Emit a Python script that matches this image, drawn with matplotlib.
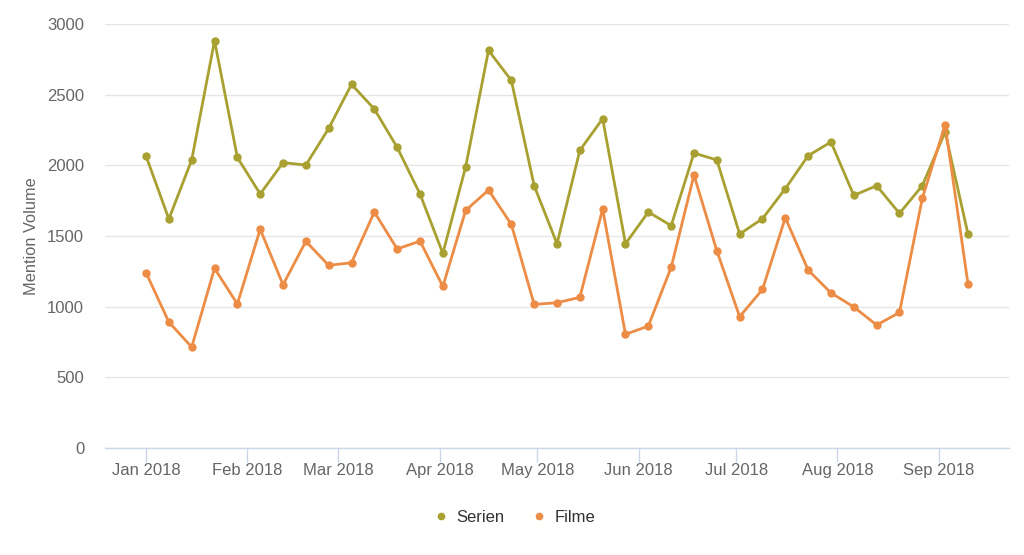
import matplotlib
matplotlib.use("Agg")
import matplotlib.pyplot as plt
import matplotlib.dates as mdates
import pandas as pd

dates = pd.date_range("2018-01-01", periods=37, freq="7D")
serien = [2066, 1620, 2038, 2882, 2056, 1797, 2019, 2002, 2261, 2573, 2398, 2127,
          1797, 1377, 1990, 2813, 2601, 1856, 1445, 2106, 2330, 1445, 1670, 1573,
          2087, 2038, 1514, 1622, 1835, 2068, 2165, 1787, 1856, 1660, 1856, 2236, 1514]
filme = [1240, 891, 714, 1271, 1019, 1548, 1155, 1462, 1292, 1311, 1670, 1408,
         1464, 1143, 1681, 1825, 1582, 1016, 1028, 1066, 1691, 804, 863, 1278,
         1931, 1396, 929, 1122, 1629, 1259, 1097, 998, 870, 959, 1766, 2287, 1162]
month_ticks = pd.date_range("2018-01-01", "2018-09-01", freq="MS")
yticks = [0, 500, 1000, 1500, 2000, 2500, 3000]

plt.rcParams['font.family'] = ['Liberation Sans', 'DejaVu Sans']
fig = plt.figure(figsize=(10.24, 5.55), dpi=100)
ax = fig.add_axes([105/1024, 1-448/555, (1009-105)/1024, (448-24)/555])

c_ser = '#a8a030'
c_fil = '#ec8c45'
ax.plot(dates, serien, color=c_ser, lw=2, marker='o', ms=5, label='Serien', clip_on=False, zorder=3)
ax.plot(dates, filme, color=c_fil, lw=2, marker='o', ms=5, label='Filme', clip_on=False, zorder=4)

ax.set_ylim(0, 3000)
ax.set_xlim(pd.Timestamp("2017-12-19 10:00"), pd.Timestamp("2018-09-22 14:00"))
ax.set_yticks(yticks)
ax.set_xticks(month_ticks)
ax.xaxis.set_major_formatter(mdates.DateFormatter('%b %Y'))

ax.grid(axis='y', color='#e6e6e6', lw=1)
ax.set_axisbelow(True)
for s in ['top', 'right', 'left']:
    ax.spines[s].set_visible(False)
ax.spines['bottom'].set_color('#ccd6eb')
ax.spines['bottom'].set_linewidth(1)
ax.tick_params(axis='x', colors='#ccd6eb', length=10, width=1, labelcolor='#666666', labelsize=12, pad=1)
ax.tick_params(axis='y', length=0, labelcolor='#666666', labelsize=12, pad=15)
ax.set_ylabel('Mention Volume', color='#666666', fontsize=11.8, labelpad=6)

leg = fig.legend(loc='center', bbox_to_anchor=(516/1024, 1-517/555), ncol=2, frameon=False,
                 fontsize=12, handlelength=0.5, handletextpad=0.7, columnspacing=1.8, markerscale=0.9)
for h in leg.legend_handles:
    h.set_linestyle('none')
for t in leg.get_texts():
    t.set_color('#333333')

fig.savefig('out.png', dpi=100)
